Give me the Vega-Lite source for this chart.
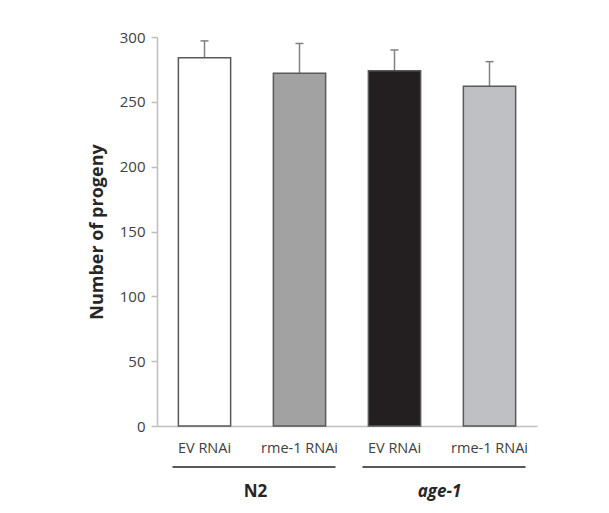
{
  "$schema": "https://vega.github.io/schema/vega-lite/v6.json",
  "width": 380,
  "height": 389,
  "autosize": "none",
  "padding": {"left": 157, "top": 37, "right": 72, "bottom": 87},
  "background": "white",
  "config": {"view": {"stroke": null}, "font": "Open Sans"},
  "datasets": {
    "bars": [
      {"key": "N2 / EV RNAi", "group": "N2", "treatment": "EV RNAi", "progeny": 284, "upper": 297},
      {"key": "N2 / rme-1 RNAi", "group": "N2", "treatment": "rme-1 RNAi", "progeny": 272, "upper": 295},
      {"key": "age-1 / EV RNAi", "group": "age-1", "treatment": "EV RNAi", "progeny": 274, "upper": 290},
      {"key": "age-1 / rme-1 RNAi", "group": "age-1", "treatment": "rme-1 RNAi", "progeny": 262, "upper": 281}
    ],
    "groups": [
      {"group": "N2", "first": "N2 / EV RNAi", "last": "N2 / rme-1 RNAi"},
      {"group": "age-1", "first": "age-1 / EV RNAi", "last": "age-1 / rme-1 RNAi"}
    ]
  },
  "encoding": {
    "x": {
      "field": "key", "type": "nominal", "sort": null,
      "scale": {"domain": ["N2 / EV RNAi", "N2 / rme-1 RNAi", "age-1 / EV RNAi", "age-1 / rme-1 RNAi"], "paddingInner": 0.45, "paddingOuter": 0.225},
      "axis": {"title": null, "labelAngle": 0, "ticks": false, "domainColor": "#bfbfbf", "domainWidth": 1.5, "labelFontSize": 14.5, "labelColor": "#404040", "labelPadding": 15, "labelExpr": "split(datum.label, ' / ')[1]"}
    }
  },
  "layer": [
    {
      "data": {"name": "bars"},
      "mark": {"type": "rule", "stroke": "#808080", "strokeWidth": 1.5},
      "encoding": {
        "y": {"field": "progeny", "type": "quantitative", "scale": {"domain": [0, 300], "nice": false},
          "axis": {"values": [0, 50, 100, 150, 200, 250, 300], "grid": false, "domainColor": "#bfbfbf", "domainWidth": 1.5, "tickColor": "#bfbfbf", "tickSize": 6, "tickWidth": 1.5, "labelFontSize": 15, "labelColor": "#404040", "labelPadding": 6, "title": "Number of progeny", "titleFontSize": 18, "titleFontWeight": "bold", "titleColor": "#262626", "titlePadding": 13}},
        "y2": {"field": "upper"}
      }
    },
    {
      "data": {"name": "bars"},
      "mark": {"type": "tick", "color": "#808080", "thickness": 1.5, "size": 8, "opacity": 1},
      "encoding": {"y": {"field": "upper", "type": "quantitative"}}
    },
    {
      "data": {"name": "bars"},
      "mark": {"type": "bar", "stroke": "#595959", "strokeWidth": 1.5, "opacity": 1},
      "encoding": {
        "y": {"field": "progeny", "type": "quantitative"},
        "fill": {"field": "key", "type": "nominal", "legend": null,
          "scale": {"domain": ["N2 / EV RNAi", "N2 / rme-1 RNAi", "age-1 / EV RNAi", "age-1 / rme-1 RNAi"], "range": ["#ffffff", "#a2a2a2", "#231f20", "#bfc0c3"]}}
      }
    },
    {
      "data": {"name": "groups"},
      "mark": {"type": "rule", "stroke": "#595959", "strokeWidth": 2, "xOffset": -32, "x2Offset": 36, "yOffset": 41},
      "encoding": {
        "x": {"field": "first", "type": "nominal"},
        "x2": {"field": "last"},
        "y": {"datum": 0, "type": "quantitative"}
      }
    },
    {
      "data": {"name": "groups"},
      "transform": [{"filter": "datum.group === 'N2'"}],
      "mark": {"type": "text", "fontSize": 17, "fontWeight": "bold", "color": "#262626", "dx": 51, "dy": 66, "baseline": "middle"},
      "encoding": {
        "x": {"field": "first", "type": "nominal"},
        "y": {"datum": 0, "type": "quantitative"},
        "text": {"field": "group"}
      }
    },
    {
      "data": {"name": "groups"},
      "transform": [{"filter": "datum.group === 'age-1'"}],
      "mark": {"type": "text", "fontSize": 17, "fontWeight": "bold", "fontStyle": "italic", "color": "#262626", "dx": 45, "dy": 66, "baseline": "middle"},
      "encoding": {
        "x": {"field": "first", "type": "nominal"},
        "y": {"datum": 0, "type": "quantitative"},
        "text": {"field": "group"}
      }
    }
  ]
}
